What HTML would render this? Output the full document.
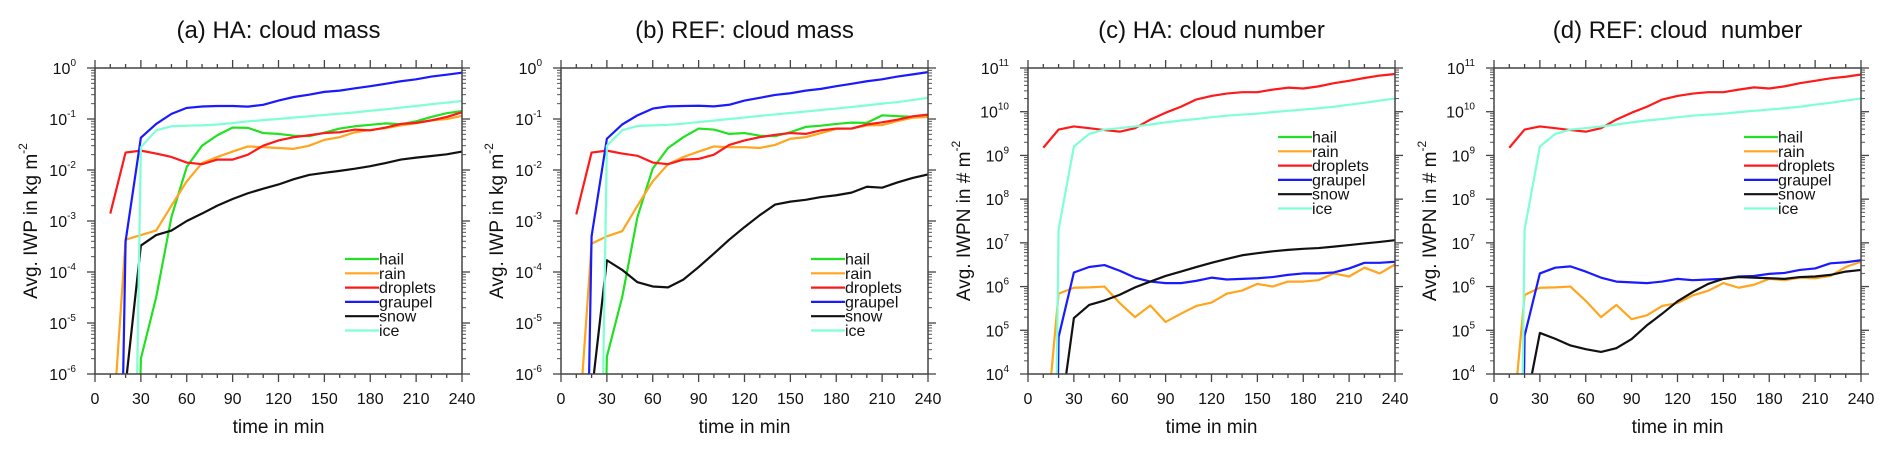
<!DOCTYPE html>
<html><head><meta charset="utf-8"><style>
html,body{margin:0;padding:0;background:#fff;overflow:hidden;width:1892px;height:452px;}
svg{display:block;font-family:"Liberation Sans",sans-serif;overflow:hidden;}
</style></head><body>
<svg id="chart" width="1892" height="452" viewBox="0 0 1892 452" xmlns="http://www.w3.org/2000/svg"></svg>
<script>
const times = [10,20,30,40,50,60,70,80,90,100,110,120,130,140,150,160,170,180,190,200,210,220,230,240];
const xTicks = [0,30,60,90,120,150,180,210,240];
const seriesNames = ["hail","rain","droplets","graupel","snow","ice"];
const T = 1e-20;
// Panel (a) HA cloud mass
const aHail = [T,T,2e-6,3.2e-5,1.2e-3,0.0115,0.03,0.048,0.068,0.067,0.053,0.051,0.047,0.046,0.054,0.065,0.072,0.077,0.082,0.079,0.09,0.11,0.13,0.143];
const aRain = [1.8e-8,4.3e-4,5.3e-4,6.5e-4,2e-3,6e-3,0.0137,0.018,0.023,0.029,0.028,0.027,0.026,0.03,0.039,0.044,0.055,0.061,0.066,0.075,0.083,0.094,0.1,0.115];
const aDroplets = [1.4e-3,0.022,0.024,0.021,0.018,0.014,0.013,0.016,0.016,0.02,0.03,0.038,0.044,0.048,0.053,0.055,0.062,0.06,0.068,0.08,0.084,0.094,0.11,0.135];
const aGraupel = [T,4e-4,0.043,0.08,0.126,0.165,0.176,0.18,0.18,0.175,0.19,0.23,0.27,0.3,0.34,0.36,0.4,0.44,0.49,0.55,0.6,0.68,0.74,0.81];
const aSnow = [T,6e-7,3.3e-4,5.3e-4,6.5e-4,1e-3,1.4e-3,2e-3,2.7e-3,3.5e-3,4.3e-3,5.2e-3,6.6e-3,8e-3,8.8e-3,9.6e-3,0.0106,0.0119,0.0137,0.016,0.0175,0.0188,0.0203,0.023];
const aIce = [T,T,0.028,0.06,0.072,0.074,0.075,0.078,0.083,0.09,0.095,0.1,0.107,0.113,0.12,0.127,0.135,0.145,0.155,0.167,0.18,0.195,0.21,0.225];
// Panel (b) REF cloud mass
const bHail = [T,T,2.2e-6,3.2e-5,1.2e-3,0.0107,0.027,0.044,0.065,0.062,0.051,0.053,0.047,0.046,0.055,0.07,0.074,0.08,0.085,0.084,0.118,0.114,0.11,0.12];
const bRain = [1.8e-8,3.6e-4,5e-4,6.3e-4,2e-3,6e-3,0.013,0.018,0.023,0.029,0.028,0.028,0.027,0.031,0.041,0.044,0.053,0.064,0.065,0.075,0.076,0.091,0.106,0.11];
const bDroplets = [1.35e-3,0.022,0.024,0.021,0.019,0.014,0.013,0.016,0.0165,0.02,0.031,0.038,0.044,0.049,0.053,0.051,0.06,0.065,0.065,0.078,0.086,0.097,0.113,0.122];
const bGraupel = [T,5e-4,0.041,0.078,0.118,0.16,0.177,0.18,0.182,0.177,0.19,0.23,0.26,0.296,0.32,0.36,0.39,0.44,0.49,0.55,0.6,0.68,0.75,0.83];
const bSnow = [T,4e-7,1.7e-4,1.1e-4,6.3e-5,5.2e-5,5e-5,7.1e-5,1.25e-4,2.3e-4,4.3e-4,7.6e-4,1.3e-3,2.1e-3,2.4e-3,2.6e-3,2.95e-3,3.2e-3,3.6e-3,4.7e-3,4.5e-3,5.7e-3,7e-3,8.2e-3];
const bIce = [T,T,0.03,0.06,0.073,0.075,0.077,0.081,0.087,0.093,0.1,0.107,0.115,0.123,0.131,0.14,0.15,0.16,0.172,0.185,0.2,0.215,0.235,0.26];
// Panel (c) HA cloud number
const cHail = [T,T,T,T,T,T,T,T,T,T,T,T,T,T,T,T,T,T,T,T,T,T,T,T];
const cRain = [100,6.9e5,9.4e5,9.6e5,1e6,4.2e5,2e5,3.7e5,1.55e5,2.4e5,3.6e5,4.3e5,6.9e5,8.1e5,1.15e6,1e6,1.3e6,1.3e6,1.4e6,2e6,1.7e6,2.7e6,2e6,3.2e6];
const cDroplets = [1.5e9,3.9e9,4.6e9,4.2e9,3.8e9,3.5e9,4.2e9,6.6e9,9.5e9,1.3e10,1.9e10,2.3e10,2.6e10,2.8e10,2.8e10,3.2e10,3.55e10,3.4e10,3.8e10,4.5e10,5.1e10,5.9e10,6.7e10,7.3e10];
const cGraupel = [T,7e4,2.1e6,2.8e6,3.1e6,2.3e6,1.6e6,1.3e6,1.2e6,1.2e6,1.35e6,1.6e6,1.45e6,1.5e6,1.55e6,1.65e6,1.85e6,2e6,2e6,2.1e6,2.6e6,3.5e6,3.5e6,3.7e6];
const cSnow = [T,525,1.9e5,3.8e5,4.8e5,6.5e5,9.6e5,1.3e6,1.75e6,2.2e6,2.8e6,3.5e6,4.3e6,5.2e6,5.8e6,6.4e6,6.9e6,7.3e6,7.6e6,8.2e6,8.9e6,9.7e6,1.05e7,1.15e7];
const cIce = [T,2e7,1.6e9,3.1e9,3.9e9,4.2e9,4.6e9,5.1e9,5.7e9,6.3e9,6.8e9,7.5e9,8.1e9,8.6e9,9e9,9.8e9,1.05e10,1.12e10,1.2e10,1.3e10,1.45e10,1.6e10,1.8e10,2e10];
// Panel (d) REF cloud number
const dHail = [T,T,T,T,T,T,T,T,T,T,T,T,T,T,T,T,T,T,T,T,T,T,T,T];
const dRain = [100,6.4e5,9.4e5,9.6e5,1e6,4.7e5,2e5,3.8e5,1.8e5,2.2e5,3.6e5,4.2e5,6.3e5,8e5,1.2e6,9.4e5,1.1e6,1.5e6,1.4e6,1.6e6,1.55e6,1.75e6,2.8e6,3.7e6];
const dDroplets = [1.5e9,3.9e9,4.6e9,4.2e9,3.8e9,3.5e9,4.2e9,6.6e9,9.5e9,1.3e10,1.9e10,2.3e10,2.6e10,2.8e10,2.8e10,3.2e10,3.6e10,3.4e10,3.8e10,4.5e10,5.1e10,5.8e10,6.3e10,7.1e10];
const dGraupel = [T,7.5e4,2e6,2.7e6,2.9e6,2.2e6,1.6e6,1.3e6,1.25e6,1.2e6,1.3e6,1.5e6,1.4e6,1.45e6,1.5e6,1.7e6,1.75e6,1.95e6,2.05e6,2.4e6,2.6e6,3.4e6,3.6e6,4e6];
const dSnow = [T,1350,8.7e4,6.4e4,4.5e4,3.7e4,3.2e4,3.9e4,6.3e4,1.3e5,2.4e5,4.6e5,7.5e5,1.15e6,1.5e6,1.65e6,1.6e6,1.55e6,1.5e6,1.65e6,1.7e6,1.85e6,2.2e6,2.4e6];
const dIce = [T,2e7,1.6e9,3.1e9,3.9e9,4.2e9,4.6e9,5.1e9,5.7e9,6.3e9,6.8e9,7.5e9,8.1e9,8.6e9,9e9,9.8e9,1.05e10,1.12e10,1.2e10,1.3e10,1.45e10,1.6e10,1.8e10,2e10];

const colors = {hail:"#22e022",rain:"#ffa51f",droplets:"#ff1a1a",graupel:"#1a1aff",snow:"#111111",ice:"#7fffd4"};
const panels = [
  {id:"a",left:95,title:"(a) HA: cloud mass",yt:"Avg. IWP in kg m",emin:-6,emax:0,legTop:191,
   data:[aHail,aRain,aDroplets,aGraupel,aSnow,aIce]},
  {id:"b",left:561,title:"(b) REF: cloud mass",yt:"Avg. IWP in kg m",emin:-6,emax:0,legTop:191,
   data:[bHail,bRain,bDroplets,bGraupel,bSnow,bIce]},
  {id:"c",left:1028,title:"(c) HA: cloud number",yt:"Avg. IWPN in # m",emin:4,emax:11,legTop:69,
   data:[cHail,cRain,cDroplets,cGraupel,cSnow,cIce]},
  {id:"d",left:1494,title:"(d) REF: cloud\u00a0 number",yt:"Avg. IWPN in # m",emin:4,emax:11,legTop:69,
   data:[dHail,dRain,dDroplets,dGraupel,dSnow,dIce]}
];
const NS="http://www.w3.org/2000/svg";
const svg=document.getElementById("chart");
function mk(tag,attrs,parent){const e=document.createElementNS(NS,tag);for(const k in attrs)e.setAttribute(k,attrs[k]);(parent||svg).appendChild(e);return e;}
const TOP=68,H=306,W=367;
panels.forEach(p=>{
  const g=mk("g",{});
  
  
  const L=p.left,R=L+W,B=TOP+H;
  const xs=t=>L+t/240*W;
  const ys=v=>{const e=Math.log10(v);return B-(e-p.emin)/(p.emax-p.emin)*H;};
  const tt=mk("text",{x:L+W/2,y:38,"text-anchor":"middle","font-size":"24",fill:"#111"},g);
  tt.textContent=p.title;
  
  
  for(let t=0;t<=240;t+=10){
    const major=t%30===0;const len=major?8:4;
    mk("line",{x1:xs(t),x2:xs(t),y1:B,y2:B+len,stroke:"#444","stroke-width":1.3},g);
    mk("line",{x1:xs(t),x2:xs(t),y1:TOP,y2:TOP-len,stroke:"#444","stroke-width":1.3},g);
  }
  xTicks.forEach(t=>{
    const lb=mk("text",{x:xs(t),y:404,"text-anchor":"middle","font-size":"16",fill:"#111"},g);
    lb.textContent=t;
    
    
  });
  const xt=mk("text",{x:L+W/2,y:433,"text-anchor":"middle","font-size":"19",fill:"#111"},g);
  xt.textContent="time in min";
  
  
  for(let e=p.emin;e<=p.emax;e++){
    const y=ys(Math.pow(10,e));
    mk("line",{x1:L-8,x2:L,y1:y,y2:y,stroke:"#444","stroke-width":1.3},g);
    mk("line",{x1:R,x2:R+8,y1:y,y2:y,stroke:"#444","stroke-width":1.3},g);
    const lb=mk("text",{x:L-19,y:y+6,"text-anchor":"end","font-size":"16",fill:"#111"},g);
    lb.textContent="10";
    const sp=mk("tspan",{dy:"-8","font-size":"10"},lb);sp.textContent=String(e);
    
    
    if(e<p.emax){for(let m=2;m<=9;m++){const ym=ys(m*Math.pow(10,e));
      mk("line",{x1:L-4,x2:L,y1:ym,y2:ym,stroke:"#555","stroke-width":1},g);
      mk("line",{x1:R,x2:R+4,y1:ym,y2:ym,stroke:"#555","stroke-width":1},g);}}
  }
  const cy=TOP+H/2,cx=L-63;
  const yt=mk("text",{x:cx,y:cy,"text-anchor":"middle","font-size":"19",fill:"#111",transform:`rotate(-90 ${cx} ${cy})`,"dominant-baseline":"middle"},g);
  yt.textContent=p.yt;
  const ysup=mk("tspan",{dy:"-8","font-size":"12"},yt);ysup.textContent="-2";
  
  
  // series: clip segments geometrically at the bottom axis
  const sg=mk("g",{},g);
  p.data.forEach((arr,i)=>{
    const name=seriesNames[i];
    const pts=arr.map((v,k)=>[xs(times[k]),ys(v)]);
    let d="",pen=false;
    for(let k=0;k<pts.length-1;k++){
      let [x1,y1]=pts[k],[x2,y2]=pts[k+1];
      if(y1>B&&y2>B){pen=false;continue;}
      if(y1>B){x1=x1+(x2-x1)*(B-y1)/(y2-y1);y1=B;pen=false;}
      let endOut=false;
      if(y2>B){x2=x1+(x2-x1)*(B-y1)/(y2-y1);y2=B;endOut=true;}
      if(!pen)d+="M"+x1.toFixed(2)+","+y1.toFixed(2);
      d+="L"+x2.toFixed(2)+","+y2.toFixed(2);
      pen=!endOut;
    }
    const pl=mk("path",{d:d||"M0,0",fill:"none",stroke:colors[name],"stroke-width":2.2,"stroke-linejoin":"round"},sg);
    
    
  });
  const box=mk("rect",{x:L,y:TOP,width:W,height:H,fill:"none",stroke:"#444","stroke-width":1.5},g);
  
  
  seriesNames.forEach((name,i)=>{
    const y=TOP+p.legTop+i*14.3;
    const lg=mk("g",{},g);
    
    
    mk("line",{x1:L+250,x2:L+284,y1:y,y2:y,stroke:colors[name],"stroke-width":2.2},lg);
    const tx=mk("text",{x:L+284,y:y+5.5,"font-size":"16",fill:"#111"},lg);
    tx.textContent=name;
  });
});
</script>
</body></html>
